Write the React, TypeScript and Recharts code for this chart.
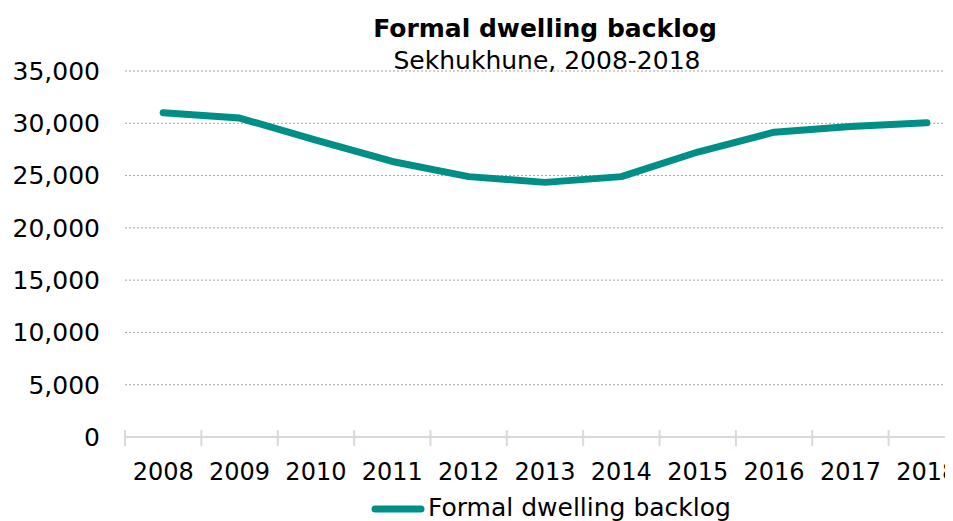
import { CartesianGrid, Legend, Line, LineChart, XAxis, YAxis } from "recharts";

const years = ["2008", "2009", "2010", "2011", "2012", "2013", "2014", "2015", "2016", "2017", "2018"];
const backlog = [31000, 30500, 28400, 26350, 24900, 24350, 24900, 27250, 29150, 29700, 30050];
const yTicks = [0, 5000, 10000, 15000, 20000, 25000, 30000, 35000];

const seriesName = "Formal dwelling backlog";
const lineColor = "#008f87";

const data = years.map((year, i) => ({ year, value: backlog[i] }));

const CHART_W = 970;
const CHART_H = 513;
const Y_AXIS_W = 117;
const RIGHT = 13;
const PLOT_W = CHART_W - Y_AXIS_W - RIGHT;
const HALF = PLOT_W / (years.length * 2);

const XTick = (props: any) => {
  const { x, y, payload, index } = props;
  return (
    <g>
      <line x1={x - HALF} x2={x - HALF} y1={y - 7} y2={y + 9} stroke="#d9d9d9" strokeWidth={2} />
      {index === years.length - 1 && (
        <line x1={x + HALF} x2={x + HALF} y1={y - 7} y2={y + 9} stroke="#d9d9d9" strokeWidth={2} />
      )}
      <text x={x} y={y + 43} textAnchor="middle" fontSize={24} fill="#000">
        {payload.value}
      </text>
    </g>
  );
};

// legend text nudged up a touch so the descenders stay inside the frame
const LegendContent = () => (
  <div style={{ display: "flex", alignItems: "center", height: 25, paddingLeft: 363, fontSize: 25, lineHeight: "25px", whiteSpace: "nowrap" }}>
    <svg width={54} height={10}>
      <line x1={4} x2={50} y1={5} y2={5} stroke={lineColor} strokeWidth={7} strokeLinecap="round" />
    </svg>
    <span style={{ marginLeft: 3, color: "#000", position: "relative", top: -1 }}>{seriesName}</span>
  </div>
);

export default function App() {
  return (
    <div
      style={{
        position: "relative",
        width: 945,
        height: CHART_H,
        overflow: "hidden",
        fontFamily: "'DejaVu Sans', sans-serif",
        background: "#fff"
      }}
    >
      <div style={{ position: "absolute", left: 337, top: 8, width: 400, textAlign: "center", fontSize: 25, lineHeight: "25px", fontWeight: "bold", zIndex: 1 }}>
        Formal dwelling backlog
      </div>
      <div style={{ position: "absolute", left: 339, top: 40, width: 400, textAlign: "center", fontSize: 25, lineHeight: "25px", zIndex: 1 }}>
        Sekhukhune, 2008-2018
      </div>
      <LineChart width={CHART_W} height={CHART_H} data={data} margin={{ top: 63, right: RIGHT, bottom: 0, left: 0 }}>
        <CartesianGrid vertical={false} stroke="#a6a6a6" strokeDasharray="2 2" />
        <XAxis
          dataKey="year"
          height={59}
          padding={{ left: HALF, right: HALF }}
          tick={<XTick />}
          tickLine={false}
          tickSize={0}
          tickMargin={0}
          interval={0}
          axisLine={{ stroke: "#d9d9d9", strokeWidth: 2 }}
        />
        <YAxis
          width={Y_AXIS_W}
          domain={[0, 35000]}
          ticks={yTicks}
          axisLine={false}
          tickLine={false}
          tickSize={0}
          tickMargin={25}
          tick={{ fontSize: 25, fill: "#000" }}
          tickFormatter={(v: number) => v.toLocaleString("en-US")}
        />
        <Legend verticalAlign="bottom" wrapperStyle={{ left: 0, width: 940 }} content={<LegendContent />} />
        <Line
          type="linear"
          dataKey="value"
          name={seriesName}
          stroke={lineColor}
          strokeWidth={7}
          strokeLinecap="round"
          strokeLinejoin="round"
          dot={false}
          activeDot={false}
          isAnimationActive={false}
        />
      </LineChart>
    </div>
  );
}
